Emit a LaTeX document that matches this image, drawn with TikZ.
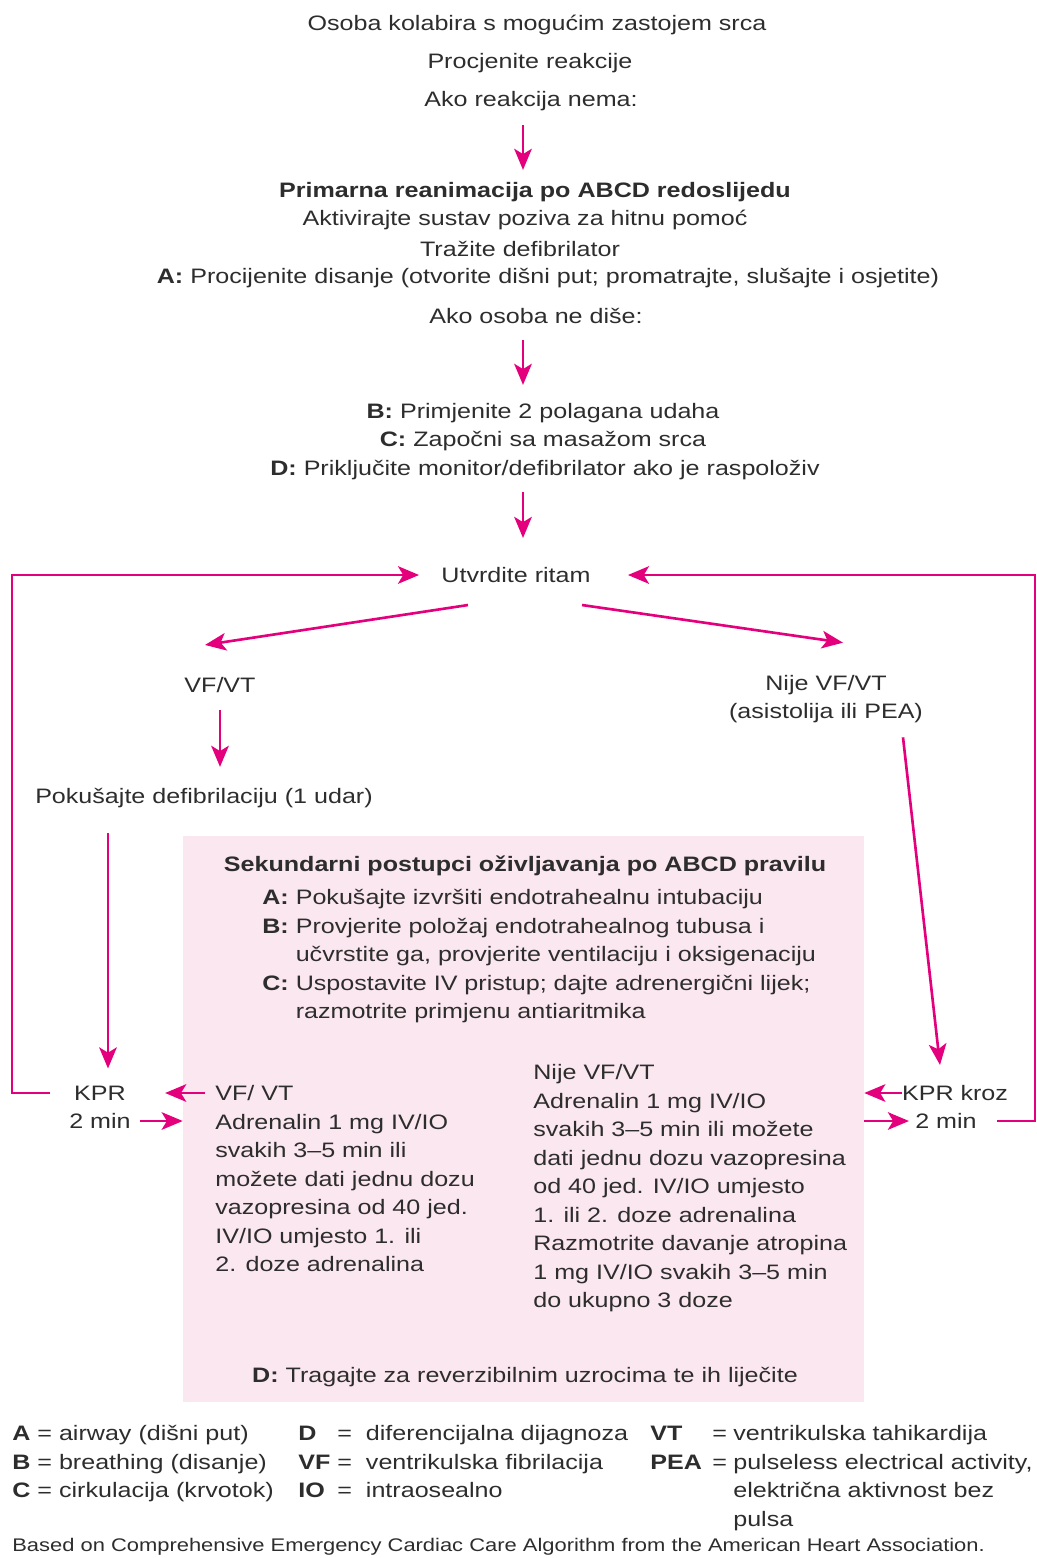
\documentclass[tikz,border=0pt]{standalone}
\usepackage{fontspec}
\setmainfont{Liberation Sans}[FakeStretch=1.2]
\usetikzlibrary{arrows.meta,calc}
\definecolor{flowpink}{RGB}{228,0,124}
\definecolor{boxpink}{RGB}{251,231,239}
\definecolor{inkgray}{RGB}{45,45,45}
\newcommand{\flowsize}{\fontsize{11.9pt}{16.2pt}\selectfont}

\begin{document}
\begin{tikzpicture}
  [x=0.02cm, y=-0.02cm,
   txt/.style={inner sep=0pt, text=inkgray, font=\flowsize},
   head/.style={txt, font=\flowsize\bfseries},
   block/.style={txt, anchor=north west},
   flow/.style={draw=flowpink, line width=1.5pt, -{Stealth[length=12pt,width=10pt,inset=3pt]}},
   secbox/.style={fill=boxpink, inner sep=0pt, minimum width=13.62cm, minimum height=11.32cm}]

  \useasboundingbox (0,0) rectangle (1037,1558);

  % secondary survey box, drawn first so it sits behind
  \node[secbox] (acls) at (523.5,1119) {};

  % collapse and primary survey
  \node[txt] (collapse) at (537,25) {Osoba kolabira s mogućim zastojem srca};
  \node[txt] (assess) at (530,63) {Procjenite reakcije};
  \node[txt] (noresp) at (531,101) {Ako reakcija nema:};
  \node[head] (primtitle) at (535,192) {Primarna reanimacija po ABCD redoslijedu};
  \node[txt] (callhelp) at (525,220) {Aktivirajte sustav poziva za hitnu pomoć};
  \node[txt] (getdefib) at (520,249) {Tražite defibrilator};
  \node[txt] (airway) at (548,278) {\textbf{A:} Procijenite disanje (otvorite dišni put; promatrajte, slušajte i osjetite)};
  \node[txt] (nobreath) at (536,316) {Ako osoba ne diše:};
  \node[txt] (breaths) at (543,413) {\textbf{B:} Primjenite 2 polagana udaha};
  \node[txt] (compress) at (543,441) {\textbf{C:} Započni sa masažom srca};
  \node[txt] (monitor) at (545,470) {\textbf{D:} Priključite monitor/defibrilator ako je raspoloživ};

  % rhythm check
  \node[txt] (rhythm) at (516,575) {Utvrdite ritam};
  \node[txt] (vf) at (220,685) {VF/VT};
  \node[txt, align=center] (nonvf) at (826,699) {Nije VF/VT\\(asistolija ili PEA)};
  \node[txt] (shock) at (204,798) {Pokušajte defibrilaciju (1 udar)};

  % CPR labels on both sides
  \node[txt] (cprL) at (100,1093) {KPR};
  \node[txt] (cprLtime) at (100,1121) {2 min};
  \node[txt] (cprR) at (955,1093) {KPR kroz};
  \node[txt] (cprRtime) at (946,1121) {2 min};

  % contents of the secondary box
  \node[head] (sectitle) at (525,866) {Sekundarni postupci oživljavanja po ABCD pravilu};
  \node[block] (secitems) at (262,884.5) {\begin{tabular}{@{}l@{\ }l@{}}
    \textbf{A:} & Pokušajte izvršiti endotrahealnu intubaciju\\
    \textbf{B:} & Provjerite položaj endotrahealnog tubusa i\\
                & učvrstite ga, provjerite ventilaciju i oksigenaciju\\
    \textbf{C:} & Uspostavite IV pristup; dajte adrenergični lijek;\\
                & razmotrite primjenu antiaritmika
  \end{tabular}};
  \node[block] (vfcol) at (215,1080.5) {\begin{tabular}{@{}l@{}}
    VF/ VT\\
    Adrenalin 1 mg IV/IO\\
    svakih 3–5 min ili\\
    možete dati jednu dozu\\
    vazopresina od 40 jed.\\
    IV/IO umjesto 1. ili\\
    2. doze adrenalina
  \end{tabular}};
  \node[block] (nocol) at (533,1059.5) {\begin{tabular}{@{}l@{}}
    Nije VF/VT\\
    Adrenalin 1 mg IV/IO\\
    svakih 3–5 min ili možete\\
    dati jednu dozu vazopresina\\
    od 40 jed. IV/IO umjesto\\
    1. ili 2. doze adrenalina\\
    Razmotrite davanje atropina\\
    1 mg IV/IO svakih 3–5 min\\
    do ukupno 3 doze
  \end{tabular}};
  \node[txt] (reversible) at (525,1377) {\textbf{D:} Tragajte za reverzibilnim uzrocima te ih liječite};

  % legend and source
  \node[block] (legA) at (12,1420.5) {\begin{tabular}{@{}l@{}}
    \textbf{A} = airway (dišni put)\\
    \textbf{B} = breathing (disanje)\\
    \textbf{C} = cirkulacija (krvotok)
  \end{tabular}};
  \node[block] (legD) at (298,1420.5) {\begin{tabular}{@{}l@{\ }c@{\ \ }l@{}}
    \textbf{D}  & = & diferencijalna dijagnoza\\
    \textbf{VF} & = & ventrikulska fibrilacija\\
    \textbf{IO} & = & intraosealno
  \end{tabular}};
  \node[block] (legV) at (650,1420.5) {\begin{tabular}{@{}l@{\hspace{0.5em}}c@{\hspace{0.3em}}l@{}}
    \textbf{VT}  & = & ventrikulska tahikardija\\
    \textbf{PEA} & = & pulseless electrical activity,\\
                 &   & električna aktivnost bez\\
                 &   & pulsa
  \end{tabular}};
  \node[txt, anchor=west, font=\fontsize{10.4pt}{12pt}\selectfont] (source) at (12,1547) {Based on Comprehensive Emergency Cardiac Care Algorithm from the American Heart Association.};

  % primary sequence
  \draw[flow] ($(noresp.south)+(-8,14)$) -- ($(primtitle.north)+(-12,-12)$);
  \draw[flow] ($(nobreath.south)+(-13,16)$) -- ($(breaths.north)+(-20,-18)$);
  \draw[flow] ($(monitor.south)+(-22,12)$) -- ($(rhythm.north)+(7,-29)$);

  % rhythm split
  \draw[flow] ($(rhythm.south)+(-48,22)$) -- ($(vf.north)+(-15,-32)$);
  \draw[flow] ($(rhythm.south)+(66,22)$) -- ($(nonvf.north)+(17,-32)$);
  \draw[flow] ($(vf.south)+(0,17)$) -- ($(vf.south |- shock.north)+(0,-21)$);
  \draw[flow] ($(shock.south -| cprL.north)+(8,25)$) -- ($(cprL.north)+(8,-17)$);
  \draw[flow] ($(nonvf.south)+(77,14)$) -- ($(cprR.north)+(-15,-20)$);

  % CPR loops back to rhythm check
  \draw[flow] ($(cprL.east -| vfcol.west)+(-10,0)$) -- ($(cprL.east)+(39,0)$);
  \draw[flow] ($(cprLtime.east)+(9,0)$) -- (cprLtime.east -| acls.west);
  \draw[flow] ($(cprL.west)+(-24,0)$) -- ++(-38,0) |- ($(rhythm.west)+(-22,0)$);
  \draw[flow] (cprR.west) -- (cprR.west -| acls.east);
  \draw[flow] (cprRtime.west -| acls.east) -- ($(cprRtime.west)+(-6,0)$);
  \draw[flow] ($(cprRtime.east)+(20,0)$) -- ++(38,0) |- ($(rhythm.east)+(37,0)$);
\end{tikzpicture}
\end{document}
